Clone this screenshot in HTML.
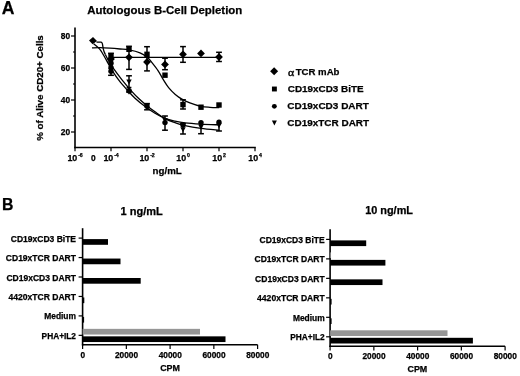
<!DOCTYPE html>
<html><head><meta charset="utf-8"><style>
html,body{margin:0;padding:0;background:#fff;}
svg{display:block;will-change:transform;}
text{font-family:"Liberation Sans", sans-serif;font-weight:bold;fill:#000;stroke:#000;stroke-width:0.25px;}
</style></head><body>
<svg width="520" height="376" viewBox="0 0 520 376">
<rect width="520" height="376" fill="#fff"/>
<text x="1.70" y="13.70" font-size="17.6" text-anchor="start" >A</text>
<text x="87.30" y="13.70" font-size="11" text-anchor="start" textLength="155" lengthAdjust="spacingAndGlyphs" >Autologous B-Cell Depletion</text>
<line x1="75.00" y1="27.50" x2="75.00" y2="148.20" stroke="#000" stroke-width="1.6"/>
<line x1="74.30" y1="147.50" x2="255.80" y2="147.50" stroke="#000" stroke-width="1.6"/>
<line x1="71.00" y1="36.00" x2="75.00" y2="36.00" stroke="#000" stroke-width="1.2"/>
<text x="70.20" y="39.00" font-size="8.4" text-anchor="end" >80</text>
<line x1="71.00" y1="68.00" x2="75.00" y2="68.00" stroke="#000" stroke-width="1.2"/>
<text x="70.20" y="71.00" font-size="8.4" text-anchor="end" >60</text>
<line x1="71.00" y1="100.00" x2="75.00" y2="100.00" stroke="#000" stroke-width="1.2"/>
<text x="70.20" y="103.00" font-size="8.4" text-anchor="end" >40</text>
<line x1="71.00" y1="132.00" x2="75.00" y2="132.00" stroke="#000" stroke-width="1.2"/>
<text x="70.20" y="135.00" font-size="8.4" text-anchor="end" >20</text>
<line x1="73.00" y1="52.00" x2="75.00" y2="52.00" stroke="#000" stroke-width="1.2"/>
<line x1="73.00" y1="84.00" x2="75.00" y2="84.00" stroke="#000" stroke-width="1.2"/>
<line x1="73.00" y1="116.00" x2="75.00" y2="116.00" stroke="#000" stroke-width="1.2"/>
<line x1="75.00" y1="147.50" x2="75.00" y2="151.20" stroke="#000" stroke-width="1.2"/>
<text x="75.10" y="160.5" font-size="8.9" text-anchor="middle">10<tspan font-size="5.2" dx="0.8" dy="-3.3">-6</tspan></text>
<line x1="111.00" y1="147.50" x2="111.00" y2="151.20" stroke="#000" stroke-width="1.2"/>
<text x="111.10" y="160.5" font-size="8.9" text-anchor="middle">10<tspan font-size="5.2" dx="0.8" dy="-3.3">-4</tspan></text>
<line x1="147.00" y1="147.50" x2="147.00" y2="151.20" stroke="#000" stroke-width="1.2"/>
<text x="147.10" y="160.5" font-size="8.9" text-anchor="middle">10<tspan font-size="5.2" dx="0.8" dy="-3.3">-2</tspan></text>
<line x1="183.00" y1="147.50" x2="183.00" y2="151.20" stroke="#000" stroke-width="1.2"/>
<text x="183.10" y="160.5" font-size="8.9" text-anchor="middle">10<tspan font-size="5.2" dx="0.8" dy="-3.3">0</tspan></text>
<line x1="219.00" y1="147.50" x2="219.00" y2="151.20" stroke="#000" stroke-width="1.2"/>
<text x="219.10" y="160.5" font-size="8.9" text-anchor="middle">10<tspan font-size="5.2" dx="0.8" dy="-3.3">2</tspan></text>
<line x1="255.00" y1="147.50" x2="255.00" y2="151.20" stroke="#000" stroke-width="1.2"/>
<text x="255.10" y="160.5" font-size="8.9" text-anchor="middle">10<tspan font-size="5.2" dx="0.8" dy="-3.3">4</tspan></text>
<text x="93.40" y="160.50" font-size="8.4" text-anchor="middle" >0</text>
<text x="152.60" y="173.60" font-size="9.6" text-anchor="start" textLength="29.2" lengthAdjust="spacingAndGlyphs" >ng/mL</text>
<text x="0" y="0" font-size="9.6" text-anchor="middle" transform="translate(43.3,88) rotate(-90)" textLength="105.6" lengthAdjust="spacingAndGlyphs">% of Alive CD20+ Cells</text>
<path d="M92.00,47.90 C93.33,47.87 97.00,47.65 100.00,47.70 C103.00,47.75 106.67,47.98 110.00,48.20 C113.33,48.42 116.83,48.72 120.00,49.00 C123.17,49.28 125.67,49.27 129.00,49.90 C132.33,50.53 137.00,51.62 140.00,52.80 C143.00,53.98 145.17,55.55 147.00,57.00 C148.83,58.45 149.17,59.23 151.00,61.50 C152.83,63.77 155.95,67.58 158.00,70.60 C160.05,73.62 161.53,76.77 163.30,79.60 C165.07,82.43 166.60,85.13 168.60,87.60 C170.60,90.07 173.08,92.48 175.30,94.40 C177.52,96.32 179.47,97.70 181.90,99.10 C184.33,100.50 186.72,101.60 189.90,102.80 C193.08,104.00 197.65,105.55 201.00,106.30 C204.35,107.05 206.95,107.08 210.00,107.30 C213.05,107.52 217.75,107.55 219.30,107.60" fill="none" stroke="#000" stroke-width="1.3"/>
<line x1="110.00" y1="57.40" x2="222.00" y2="57.40" stroke="#000" stroke-width="1.3"/>
<path d="M93.60,43.80 C94.33,44.40 96.77,46.23 98.00,47.40 C99.23,48.57 99.92,49.23 101.00,50.80 C102.08,52.37 103.28,54.67 104.50,56.80 C105.72,58.93 106.98,61.27 108.30,63.60 C109.62,65.93 110.62,68.00 112.40,70.80 C114.18,73.60 116.62,77.30 119.00,80.40 C121.38,83.50 124.03,86.43 126.70,89.40 C129.37,92.37 131.92,95.33 135.00,98.20 C138.08,101.07 141.87,104.08 145.20,106.60 C148.53,109.12 151.70,111.33 155.00,113.30 C158.30,115.27 161.67,117.08 165.00,118.40 C168.33,119.72 171.67,120.45 175.00,121.20 C178.33,121.95 180.67,122.42 185.00,122.90 C189.33,123.38 195.28,123.77 201.00,124.10 C206.72,124.43 216.25,124.77 219.30,124.90" fill="none" stroke="#000" stroke-width="1.3"/>
<path d="M96.5,42.1 L100.9,42.1 Q102.3,42.2 102.6,44.8 L103.2,48.6 Q103.8,51.6 105.4,54.6" fill="none" stroke="#000" stroke-width="1.3"/>
<path d="M105.40,54.60 C106.00,55.75 107.70,59.23 109.00,61.50 C110.30,63.77 111.03,65.15 113.20,68.20 C115.37,71.25 118.87,75.90 122.00,79.80 C125.13,83.70 129.17,88.43 132.00,91.60 C134.83,94.77 136.67,96.58 139.00,98.80 C141.33,101.02 143.33,102.73 146.00,104.90 C148.67,107.07 151.83,109.52 155.00,111.80 C158.17,114.08 161.67,116.80 165.00,118.60 C168.33,120.40 171.67,121.43 175.00,122.60 C178.33,123.77 180.67,124.63 185.00,125.60 C189.33,126.57 195.28,127.62 201.00,128.40 C206.72,129.18 216.25,129.98 219.30,130.30" fill="none" stroke="#000" stroke-width="1.3"/>
<line x1="111.00" y1="53.30" x2="111.00" y2="75.30" stroke="#000" stroke-width="1.5"/>
<line x1="108.10" y1="53.30" x2="113.90" y2="53.30" stroke="#000" stroke-width="1.5"/>
<line x1="108.10" y1="75.30" x2="113.90" y2="75.30" stroke="#000" stroke-width="1.5"/>
<line x1="129.00" y1="46.30" x2="129.00" y2="69.40" stroke="#000" stroke-width="1.5"/>
<line x1="126.10" y1="46.30" x2="131.90" y2="46.30" stroke="#000" stroke-width="1.5"/>
<line x1="126.10" y1="69.40" x2="131.90" y2="69.40" stroke="#000" stroke-width="1.5"/>
<line x1="129.00" y1="75.80" x2="129.00" y2="92.00" stroke="#000" stroke-width="1.5"/>
<line x1="126.10" y1="75.80" x2="131.90" y2="75.80" stroke="#000" stroke-width="1.5"/>
<line x1="126.10" y1="92.00" x2="131.90" y2="92.00" stroke="#000" stroke-width="1.5"/>
<line x1="126.60" y1="87.50" x2="131.40" y2="87.50" stroke="#000" stroke-width="1.5"/>
<line x1="147.00" y1="46.70" x2="147.00" y2="70.90" stroke="#000" stroke-width="1.5"/>
<line x1="144.10" y1="46.70" x2="149.90" y2="46.70" stroke="#000" stroke-width="1.5"/>
<line x1="144.10" y1="70.90" x2="149.90" y2="70.90" stroke="#000" stroke-width="1.5"/>
<line x1="147.00" y1="103.60" x2="147.00" y2="109.80" stroke="#000" stroke-width="1.5"/>
<line x1="144.10" y1="103.60" x2="149.90" y2="103.60" stroke="#000" stroke-width="1.5"/>
<line x1="144.10" y1="109.80" x2="149.90" y2="109.80" stroke="#000" stroke-width="1.5"/>
<line x1="165.00" y1="58.20" x2="165.00" y2="69.70" stroke="#000" stroke-width="1.5"/>
<line x1="162.10" y1="58.20" x2="167.90" y2="58.20" stroke="#000" stroke-width="1.5"/>
<line x1="162.10" y1="69.70" x2="167.90" y2="69.70" stroke="#000" stroke-width="1.5"/>
<line x1="165.00" y1="116.00" x2="165.00" y2="130.20" stroke="#000" stroke-width="1.5"/>
<line x1="162.10" y1="116.00" x2="167.90" y2="116.00" stroke="#000" stroke-width="1.5"/>
<line x1="162.10" y1="130.20" x2="167.90" y2="130.20" stroke="#000" stroke-width="1.5"/>
<line x1="183.00" y1="46.60" x2="183.00" y2="62.30" stroke="#000" stroke-width="1.5"/>
<line x1="180.10" y1="46.60" x2="185.90" y2="46.60" stroke="#000" stroke-width="1.5"/>
<line x1="180.10" y1="62.30" x2="185.90" y2="62.30" stroke="#000" stroke-width="1.5"/>
<line x1="183.00" y1="99.80" x2="183.00" y2="109.00" stroke="#000" stroke-width="1.5"/>
<line x1="180.10" y1="99.80" x2="185.90" y2="99.80" stroke="#000" stroke-width="1.5"/>
<line x1="180.10" y1="109.00" x2="185.90" y2="109.00" stroke="#000" stroke-width="1.5"/>
<line x1="183.00" y1="123.60" x2="183.00" y2="134.00" stroke="#000" stroke-width="1.5"/>
<line x1="180.10" y1="123.60" x2="185.90" y2="123.60" stroke="#000" stroke-width="1.5"/>
<line x1="180.10" y1="134.00" x2="185.90" y2="134.00" stroke="#000" stroke-width="1.5"/>
<line x1="201.00" y1="123.50" x2="201.00" y2="133.70" stroke="#000" stroke-width="1.5"/>
<line x1="198.10" y1="133.70" x2="203.90" y2="133.70" stroke="#000" stroke-width="1.5"/>
<line x1="219.00" y1="52.30" x2="219.00" y2="61.50" stroke="#000" stroke-width="1.5"/>
<line x1="216.10" y1="52.30" x2="221.90" y2="52.30" stroke="#000" stroke-width="1.5"/>
<line x1="216.10" y1="61.50" x2="221.90" y2="61.50" stroke="#000" stroke-width="1.5"/>
<line x1="219.00" y1="123.00" x2="219.00" y2="131.00" stroke="#000" stroke-width="1.5"/>
<line x1="216.10" y1="131.00" x2="221.90" y2="131.00" stroke="#000" stroke-width="1.5"/>
<path d="M89.0,40.6 L93.0,36.9 L97.0,41.0 L92.6,44.2Z" fill="#000"/>
<path d="M107.10,59.00 L111.00,55.10 L114.90,59.00 L111.00,62.90Z" fill="#000"/>
<path d="M125.10,57.30 L129.00,53.40 L132.90,57.30 L129.00,61.20Z" fill="#000"/>
<path d="M143.10,62.00 L147.00,58.10 L150.90,62.00 L147.00,65.90Z" fill="#000"/>
<path d="M161.10,64.40 L165.00,60.50 L168.90,64.40 L165.00,68.30Z" fill="#000"/>
<path d="M179.10,54.30 L183.00,50.40 L186.90,54.30 L183.00,58.20Z" fill="#000"/>
<path d="M197.10,53.40 L201.00,49.50 L204.90,53.40 L201.00,57.30Z" fill="#000"/>
<path d="M215.10,57.00 L219.00,53.10 L222.90,57.00 L219.00,60.90Z" fill="#000"/>
<rect x="108.30" y="53.30" width="5.40" height="5.40" fill="#000"/>
<rect x="126.30" y="46.60" width="5.40" height="5.40" fill="#000"/>
<rect x="144.30" y="51.60" width="5.40" height="5.40" fill="#000"/>
<rect x="162.30" y="72.50" width="5.40" height="5.40" fill="#000"/>
<rect x="180.30" y="101.90" width="5.40" height="5.40" fill="#000"/>
<rect x="198.30" y="104.50" width="5.40" height="5.40" fill="#000"/>
<rect x="216.30" y="102.30" width="5.40" height="5.40" fill="#000"/>
<circle cx="111.00" cy="63.00" r="2.7" fill="#000"/>
<circle cx="111.00" cy="67.50" r="2.7" fill="#000"/>
<circle cx="111.00" cy="71.30" r="2.7" fill="#000"/>
<circle cx="129.00" cy="90.80" r="2.7" fill="#000"/>
<circle cx="147.00" cy="106.30" r="2.7" fill="#000"/>
<circle cx="165.00" cy="122.60" r="2.7" fill="#000"/>
<circle cx="183.00" cy="124.90" r="2.7" fill="#000"/>
<circle cx="201.00" cy="122.60" r="2.7" fill="#000"/>
<circle cx="219.00" cy="122.30" r="2.7" fill="#000"/>
<path d="M108.30,63.57 L113.70,63.57 L111.00,68.43Z" fill="#000"/>
<path d="M108.30,68.07 L113.70,68.07 L111.00,72.93Z" fill="#000"/>
<path d="M126.30,79.57 L131.70,79.57 L129.00,84.43Z" fill="#000"/>
<path d="M126.30,89.87 L131.70,89.87 L129.00,94.73Z" fill="#000"/>
<path d="M144.30,104.07 L149.70,104.07 L147.00,108.93Z" fill="#000"/>
<path d="M162.30,118.07 L167.70,118.07 L165.00,122.93Z" fill="#000"/>
<path d="M180.30,127.37 L185.70,127.37 L183.00,132.23Z" fill="#000"/>
<path d="M198.30,124.77 L203.70,124.77 L201.00,129.63Z" fill="#000"/>
<path d="M216.30,123.37 L221.70,123.37 L219.00,128.23Z" fill="#000"/>
<path d="M270.10,71.20 L274.10,67.20 L278.10,71.20 L274.10,75.20Z" fill="#000"/>
<rect x="271.95" y="86.55" width="4.90" height="4.90" fill="#000"/>
<circle cx="274.35" cy="106.35" r="2.45" fill="#000"/>
<path d="M271.9,120.5 L276.9,120.5 L274.4,125.4Z" fill="#000"/>
<text x="288.0" y="75.5" font-size="10.4" textLength="6.2" lengthAdjust="spacingAndGlyphs" style="font-family:'Liberation Serif';font-weight:normal;stroke-width:0.4px">&#945;</text>
<text x="295.70" y="75.10" font-size="9.9" text-anchor="start" textLength="43.8" lengthAdjust="spacingAndGlyphs" >TCR mAb</text>
<text x="287.80" y="92.30" font-size="9.9" text-anchor="start" textLength="75.8" lengthAdjust="spacingAndGlyphs" >CD19xCD3 BiTE</text>
<text x="287.30" y="109.30" font-size="9.9" text-anchor="start" textLength="81.6" lengthAdjust="spacingAndGlyphs" >CD19xCD3 DART</text>
<text x="287.30" y="126.30" font-size="9.9" text-anchor="start" textLength="81.8" lengthAdjust="spacingAndGlyphs" >CD19xTCR DART</text>
<text x="2.10" y="209.90" font-size="15.8" text-anchor="start" >B</text>
<text x="120.60" y="214.60" font-size="10.2" text-anchor="start" textLength="42.2" lengthAdjust="spacingAndGlyphs" >1 ng/mL</text>
<line x1="82.60" y1="228.20" x2="82.60" y2="345.50" stroke="#000" stroke-width="1.6"/>
<line x1="81.90" y1="344.80" x2="257.60" y2="344.80" stroke="#000" stroke-width="1.6"/>
<line x1="82.60" y1="344.80" x2="82.60" y2="349.10" stroke="#000" stroke-width="1.2"/>
<text x="82.80" y="357.80" font-size="8.3" text-anchor="middle" >0</text>
<line x1="126.35" y1="344.80" x2="126.35" y2="349.10" stroke="#000" stroke-width="1.2"/>
<text x="126.55" y="357.80" font-size="8.3" text-anchor="middle" >20000</text>
<line x1="170.10" y1="344.80" x2="170.10" y2="349.10" stroke="#000" stroke-width="1.2"/>
<text x="170.30" y="357.80" font-size="8.3" text-anchor="middle" >40000</text>
<line x1="213.85" y1="344.80" x2="213.85" y2="349.10" stroke="#000" stroke-width="1.2"/>
<text x="214.05" y="357.80" font-size="8.3" text-anchor="middle" >60000</text>
<line x1="257.60" y1="344.80" x2="257.60" y2="349.10" stroke="#000" stroke-width="1.2"/>
<text x="257.80" y="357.80" font-size="8.3" text-anchor="middle" >80000</text>
<text x="160.20" y="370.80" font-size="9.2" text-anchor="start" textLength="19.8" lengthAdjust="spacingAndGlyphs" >CPM</text>
<line x1="78.60" y1="238.10" x2="82.60" y2="238.10" stroke="#000" stroke-width="1.2"/>
<text x="76.00" y="241.60" font-size="8.5" text-anchor="end" textLength="65.2" lengthAdjust="spacingAndGlyphs" >CD19xCD3 BiTE</text>
<rect x="82.60" y="239.10" width="25.40" height="5.70" fill="#000"/>
<line x1="78.60" y1="257.55" x2="82.60" y2="257.55" stroke="#000" stroke-width="1.2"/>
<text x="76.00" y="261.05" font-size="8.5" text-anchor="end" textLength="70.2" lengthAdjust="spacingAndGlyphs" >CD19xTCR DART</text>
<rect x="82.60" y="258.55" width="37.90" height="5.70" fill="#000"/>
<line x1="78.60" y1="277.00" x2="82.60" y2="277.00" stroke="#000" stroke-width="1.2"/>
<text x="76.00" y="280.50" font-size="8.5" text-anchor="end" textLength="69.6" lengthAdjust="spacingAndGlyphs" >CD19xCD3 DART</text>
<rect x="82.60" y="278.00" width="58.10" height="5.70" fill="#000"/>
<line x1="78.60" y1="296.45" x2="82.60" y2="296.45" stroke="#000" stroke-width="1.2"/>
<text x="76.00" y="299.95" font-size="8.5" text-anchor="end" textLength="67.6" lengthAdjust="spacingAndGlyphs" >4420xTCR DART</text>
<rect x="82.60" y="297.45" width="1.70" height="5.70" fill="#000"/>
<line x1="78.60" y1="315.90" x2="82.60" y2="315.90" stroke="#000" stroke-width="1.2"/>
<text x="76.00" y="319.40" font-size="8.5" text-anchor="end" textLength="31.8" lengthAdjust="spacingAndGlyphs" >Medium</text>
<rect x="82.60" y="316.90" width="1.50" height="5.70" fill="#000"/>
<line x1="78.60" y1="335.35" x2="82.60" y2="335.35" stroke="#000" stroke-width="1.2"/>
<text x="76.00" y="338.85" font-size="8.5" text-anchor="end" textLength="34.4" lengthAdjust="spacingAndGlyphs" >PHA+IL2</text>
<rect x="82.60" y="336.35" width="142.90" height="5.70" fill="#000"/>
<rect x="82.60" y="328.85" width="117.40" height="5.70" fill="#969696"/>
<text x="365.20" y="213.90" font-size="10.2" text-anchor="start" textLength="47.8" lengthAdjust="spacingAndGlyphs" >10 ng/mL</text>
<line x1="330.10" y1="229.20" x2="330.10" y2="346.90" stroke="#000" stroke-width="1.6"/>
<line x1="329.40" y1="346.20" x2="505.10" y2="346.20" stroke="#000" stroke-width="1.6"/>
<line x1="330.10" y1="346.20" x2="330.10" y2="350.50" stroke="#000" stroke-width="1.2"/>
<text x="330.30" y="358.90" font-size="8.3" text-anchor="middle" >0</text>
<line x1="373.85" y1="346.20" x2="373.85" y2="350.50" stroke="#000" stroke-width="1.2"/>
<text x="374.05" y="358.90" font-size="8.3" text-anchor="middle" >20000</text>
<line x1="417.60" y1="346.20" x2="417.60" y2="350.50" stroke="#000" stroke-width="1.2"/>
<text x="417.80" y="358.90" font-size="8.3" text-anchor="middle" >40000</text>
<line x1="461.35" y1="346.20" x2="461.35" y2="350.50" stroke="#000" stroke-width="1.2"/>
<text x="461.55" y="358.90" font-size="8.3" text-anchor="middle" >60000</text>
<line x1="505.10" y1="346.20" x2="505.10" y2="350.50" stroke="#000" stroke-width="1.2"/>
<text x="505.30" y="358.90" font-size="8.3" text-anchor="middle" >80000</text>
<text x="407.50" y="371.90" font-size="9.2" text-anchor="start" textLength="19.8" lengthAdjust="spacingAndGlyphs" >CPM</text>
<line x1="326.10" y1="239.40" x2="330.10" y2="239.40" stroke="#000" stroke-width="1.2"/>
<text x="324.70" y="242.90" font-size="8.5" text-anchor="end" textLength="65.2" lengthAdjust="spacingAndGlyphs" >CD19xCD3 BiTE</text>
<rect x="330.10" y="240.40" width="36.10" height="5.70" fill="#000"/>
<line x1="326.10" y1="258.88" x2="330.10" y2="258.88" stroke="#000" stroke-width="1.2"/>
<text x="324.70" y="262.38" font-size="8.5" text-anchor="end" textLength="70.2" lengthAdjust="spacingAndGlyphs" >CD19xTCR DART</text>
<rect x="330.10" y="259.88" width="55.30" height="5.70" fill="#000"/>
<rect x="330.10" y="252.38" width="0.80" height="5.70" fill="#969696"/>
<line x1="326.10" y1="278.36" x2="330.10" y2="278.36" stroke="#000" stroke-width="1.2"/>
<text x="324.70" y="281.86" font-size="8.5" text-anchor="end" textLength="69.6" lengthAdjust="spacingAndGlyphs" >CD19xCD3 DART</text>
<rect x="330.10" y="279.36" width="52.40" height="5.70" fill="#000"/>
<line x1="326.10" y1="297.84" x2="330.10" y2="297.84" stroke="#000" stroke-width="1.2"/>
<text x="324.70" y="301.34" font-size="8.5" text-anchor="end" textLength="67.6" lengthAdjust="spacingAndGlyphs" >4420xTCR DART</text>
<rect x="330.10" y="298.84" width="1.50" height="5.70" fill="#000"/>
<line x1="326.10" y1="317.32" x2="330.10" y2="317.32" stroke="#000" stroke-width="1.2"/>
<text x="324.70" y="320.82" font-size="8.5" text-anchor="end" textLength="31.8" lengthAdjust="spacingAndGlyphs" >Medium</text>
<rect x="330.10" y="318.32" width="1.50" height="5.70" fill="#000"/>
<line x1="326.10" y1="336.80" x2="330.10" y2="336.80" stroke="#000" stroke-width="1.2"/>
<text x="324.70" y="340.30" font-size="8.5" text-anchor="end" textLength="34.4" lengthAdjust="spacingAndGlyphs" >PHA+IL2</text>
<rect x="330.10" y="337.80" width="142.80" height="5.70" fill="#000"/>
<rect x="330.10" y="330.30" width="117.40" height="5.70" fill="#969696"/>
</svg></body></html>
